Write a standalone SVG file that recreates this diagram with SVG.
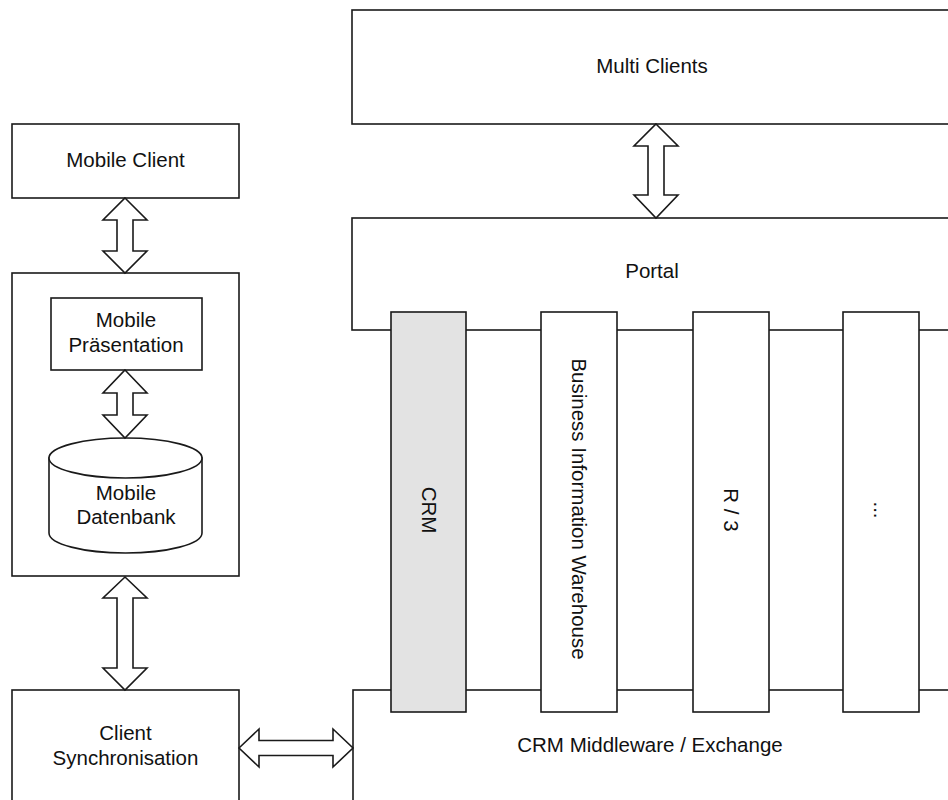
<svg xmlns="http://www.w3.org/2000/svg" width="948" height="800" viewBox="0 0 948 800">
<style>
.box{fill:#fff;stroke:#1a1a1a;stroke-width:1.6}
.gray{fill:#e3e3e3;stroke:#1a1a1a;stroke-width:1.6}
.arr{fill:#fff;stroke:#1a1a1a;stroke-width:1.6;stroke-linejoin:miter}
text{font-family:"Liberation Sans",Arial,sans-serif;font-size:20.5px;fill:#111;text-anchor:middle}
</style>
<rect width="948" height="800" fill="#fff"/>
<g id="multi-clients"><rect class="box" x="352" y="10" width="610" height="114"/><text x="652" y="73">Multi Clients</text></g>
<g id="portal"><rect class="box" x="352" y="218" width="610" height="112"/><text x="652" y="278">Portal</text></g>
<g id="crm-middleware"><rect class="box" x="353" y="690" width="610" height="130"/><text x="650" y="752">CRM Middleware / Exchange</text></g>
<g id="col-crm"><rect class="gray" x="391" y="312" width="75" height="400"/><text transform="translate(428.5,510) rotate(90)" x="0" y="7">CRM</text></g>
<g id="col-biw"><rect class="box" x="541" y="312" width="76" height="400"/><text transform="translate(579,509) rotate(90)" x="0" y="7">Business Information Warehouse</text></g>
<g id="col-r3"><rect class="box" x="693" y="312" width="76" height="400"/><text transform="translate(731,510) rotate(90)" x="0" y="7">R / 3</text></g>
<g id="col-more"><rect class="box" x="843" y="312" width="76" height="400"/><text transform="translate(881,510) rotate(90)" x="0" y="7">...</text></g>
<g id="mobile-client"><rect class="box" x="12" y="124" width="227" height="74"/><text x="125.5" y="167">Mobile Client</text></g>
<g id="mobile-device"><rect class="box" x="12" y="273" width="227" height="303"/></g>
<g id="mobile-praesentation"><rect class="box" x="51" y="298" width="151" height="72"/><text x="126" y="327">Mobile</text><text x="126" y="352">Präsentation</text></g>
<g id="mobile-datenbank">
<path class="box" d="M49,458 L49,533 A76.5,20 0 0 0 202,533 L202,458 Z"/>
<ellipse class="box" cx="125.5" cy="458" rx="76.5" ry="20"/>
<text x="126" y="500">Mobile</text><text x="126" y="524">Datenbank</text></g>
<g id="client-sync"><rect class="box" x="12" y="690" width="227" height="130"/><text x="125.5" y="740">Client</text><text x="125.5" y="765">Synchronisation</text></g>
<g id="connectors">
<polygon class="arr" points="125,198 147,220 133,220 133,251 147,251 125,273 103,251 117,251 117,220 103,220"/>
<polygon class="arr" points="125,370 147,393 133,393 133,415 147,415 125,438 103,415 117,415 117,393 103,393"/>
<polygon class="arr" points="125,577 147,598 133,598 133,668 147,668 125,690 103,668 117,668 117,598 103,598"/>
<polygon class="arr" points="656,124 678,146 664,146 664,195 678,195 656,218 634,195 648,195 648,146 634,146"/>
<polygon class="arr" points="239,748 259,729 259,740.5 333,740.5 333,729 353,748 333,767 333,755.5 259,755.5 259,767"/>
</g>
</svg>
